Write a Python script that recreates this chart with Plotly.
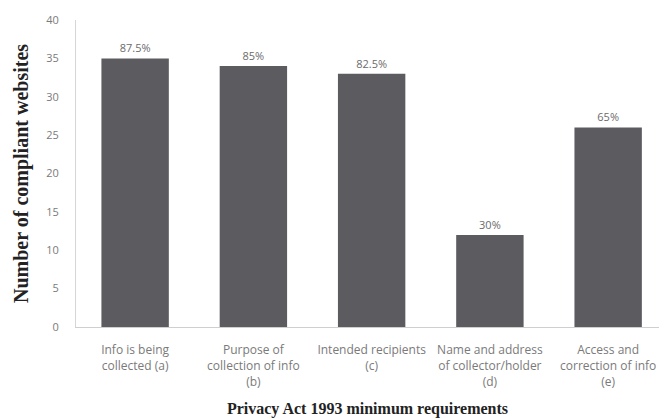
import plotly.graph_objects as go

categories = ["Info is being<br>collected (a)", "Purpose of<br>collection of info<br>(b)",
              "Intended recipients<br>(c)", "Name and address<br>of collector/holder<br>(d)",
              "Access and<br>correction of info<br>(e)"]
values = [35, 34, 33, 12, 26]
pct_labels = ["87.5%", "85%", "82.5%", "30%", "65%"]

fig = go.Figure(go.Bar(
    x=list(range(len(categories))), y=values,
    text=pct_labels, textposition="outside",
    textfont=dict(family="Open Sans", size=11, color="#6b6b6b"),
    marker=dict(color="#5c5c60", line=dict(width=0)),
    width=0.57, cliponaxis=False,
))

fig.update_layout(
    width=659, height=419,
    margin=dict(l=76, r=0, t=20, b=92),
    paper_bgcolor="white", plot_bgcolor="white",
    showlegend=False,
    xaxis=dict(
        tickmode="array", tickvals=list(range(len(categories))), ticktext=categories,
        range=[-0.5, 4.43], showline=True, linecolor="#cfcfcf", linewidth=1,
        tickfont=dict(family="Open Sans", size=12, color="#7a7a7a"),
        ticks="", ticklabelstandoff=12, showgrid=False, zeroline=False,
        title=dict(text="<b>Privacy Act 1993 minimum requirements</b>",
                   font=dict(family="Liberation Serif", size=16, color="#222222"), standoff=14),
    ),
    yaxis=dict(
        range=[0, 40], tickvals=[0, 5, 10, 15, 20, 25, 30, 35, 40],
        showline=True, linecolor="#d6d6d6", linewidth=1, showgrid=False, zeroline=False,
        tickfont=dict(family="Open Sans", size=11, color="#7a7a7a"),
        ticks="", ticklabelstandoff=14,
        title=dict(text="<b>Number of compliant websites</b>",
                   font=dict(family="Liberation Serif", size=20, color="#222222"), standoff=12),
    ),
)

fig.write_html("out.html")
